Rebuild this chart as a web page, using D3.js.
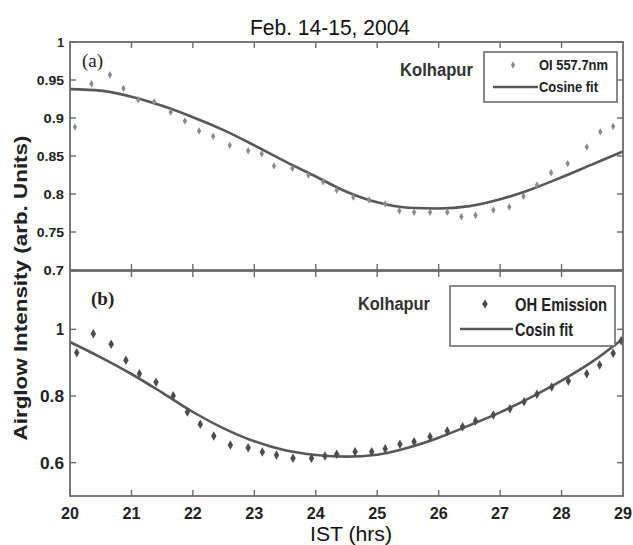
<!DOCTYPE html>
<html>
<head>
<meta charset="utf-8">
<script src="https://cdn.jsdelivr.net/npm/d3@7"></script>
<style>
    body { margin: 0; background: #fff; }
    svg { display: block; }
</style>
</head>
<body>
<div id="chart"></div>
<script>
// Panel (a): OI 557.7 nm emission, Kolhapur
const oiHours = [20.08, 20.35, 20.65, 20.87, 21.11, 21.37, 21.64, 21.87, 22.10, 22.33, 22.60, 22.90,
    23.12, 23.32, 23.62, 23.88, 24.12, 24.34, 24.61, 24.87, 25.13, 25.36, 25.60, 25.86,
    26.14, 26.37, 26.60, 26.89, 27.15, 27.38, 27.60, 27.83, 28.10, 28.41, 28.63, 28.84];
const oiValues = [0.888, 0.945, 0.957, 0.939, 0.924, 0.921, 0.908, 0.896, 0.883, 0.876, 0.864, 0.857,
    0.853, 0.837, 0.834, 0.825, 0.816, 0.805, 0.796, 0.792, 0.787, 0.778, 0.776, 0.776,
    0.776, 0.770, 0.772, 0.779, 0.783, 0.797, 0.812, 0.828, 0.840, 0.862, 0.882, 0.889];

const fitHours = [20, 20.5, 21, 21.5, 22, 22.5, 23, 23.5, 24, 24.5, 25, 25.5, 26, 26.5, 27, 27.5, 28, 28.5, 29];
const oiFit = [0.938, 0.936, 0.928, 0.916, 0.901, 0.884, 0.864, 0.843, 0.823, 0.803, 0.789, 0.782,
    0.781, 0.784, 0.793, 0.806, 0.822, 0.839, 0.856];

// Panel (b): OH emission, Kolhapur
const ohHours = [20.11, 20.38, 20.67, 20.91, 21.13, 21.40, 21.68, 21.91, 22.12, 22.34, 22.61, 22.90,
    23.13, 23.36, 23.63, 23.93, 24.15, 24.34, 24.64, 24.91, 25.13, 25.37, 25.60, 25.86,
    26.14, 26.39, 26.60, 26.89, 27.16, 27.39, 27.60, 27.84, 28.11, 28.41, 28.62, 28.84, 28.97];
const ohValues = [0.930, 0.987, 0.955, 0.907, 0.867, 0.841, 0.801, 0.752, 0.715, 0.680, 0.653, 0.645,
    0.632, 0.623, 0.613, 0.613, 0.620, 0.625, 0.633, 0.633, 0.642, 0.655, 0.663, 0.678,
    0.695, 0.708, 0.725, 0.743, 0.762, 0.783, 0.805, 0.827, 0.845, 0.867, 0.893, 0.928, 0.966];
const ohFit = [0.962, 0.916, 0.866, 0.810, 0.752, 0.703, 0.664, 0.637, 0.623, 0.618, 0.624, 0.645,
    0.675, 0.712, 0.751, 0.796, 0.846, 0.903, 0.972];

const xTicks = [20, 21, 22, 23, 24, 25, 26, 27, 28, 29];
const yTicksA = [0.7, 0.75, 0.8, 0.85, 0.9, 0.95, 1];
const yTicksB = [0.6, 0.8, 1];

const width = 633, height = 545;
const frameColor = "#6b6b6b";
const lineColor = "#585858";

const svg = d3.select("#chart")
    .append("svg")
    .attr("width", width)
    .attr("height", height)
    .attr("viewBox", [0, 0, width, height]);

const x = d3.scaleLinear().domain([20, 29]).range([70, 623]);
const yA = d3.scaleLinear().domain([0.7, 1]).range([270, 42]);
const yB = d3.scaleLinear().domain([0.5, 1.175]).range([496, 271]);

const lineGen = (y) => d3.line().x((d, i) => x(fitHours[i])).y(d => y(d)).curve(d3.curveMonotoneX);

// small helper for condensed bold labels (no narrow font installed, so squeeze to width)
function label(parent, px, py, str, size, w, opts = {}) {
    const t = parent.append("text")
        .attr("x", px).attr("y", py)
        .attr("font-family", "Liberation Sans, Arial, sans-serif")
        .attr("font-size", size)
        .attr("font-weight", opts.weight || "bold")
        .attr("fill", opts.fill || "#222")
        .attr("text-anchor", opts.anchor || "start")
        .text(str);
    if (opts.dy) t.attr("dy", opts.dy);
    if (w) t.attr("textLength", w).attr("lengthAdjust", "spacingAndGlyphs");
    return t;
}

/**
 * Draws one panel: frame with inward ticks on all sides, fit line and markers.
 */
function drawPanel(y, yTicks, yFont, values, hours, fit, marker) {
    const [y0, y1] = y.range();
    const g = svg.append("g");
    const tickLen = 6;

    // fit line
    g.append("path")
        .datum(fit)
        .attr("fill", "none")
        .attr("stroke", lineColor)
        .attr("stroke-width", 2.6)
        .attr("d", lineGen(y));

    // observations
    g.selectAll(".pt")
        .data(values)
        .join("path")
        .attr("class", "pt")
        .attr("transform", (d, i) => `translate(${x(hours[i])},${y(d)})`)
        .attr("d", d3.symbol().type(d3.symbolDiamond).size(marker.size))
        .attr("fill", marker.color);

    // frame
    g.append("rect")
        .attr("x", x(20)).attr("y", y1)
        .attr("width", x(29) - x(20)).attr("height", y0 - y1)
        .attr("fill", "none")
        .attr("stroke", frameColor)
        .attr("stroke-width", 1.8);

    // x ticks (top and bottom, inward)
    xTicks.slice(1, -1).forEach(t => {
        g.append("line").attr("x1", x(t)).attr("x2", x(t)).attr("y1", y0).attr("y2", y0 - tickLen)
            .attr("stroke", frameColor).attr("stroke-width", 1.4);
        g.append("line").attr("x1", x(t)).attr("x2", x(t)).attr("y1", y1).attr("y2", y1 + tickLen)
            .attr("stroke", frameColor).attr("stroke-width", 1.4);
    });

    // y ticks (left and right, inward) + labels
    yTicks.forEach(t => {
        g.append("line").attr("x1", x(20)).attr("x2", x(20) + tickLen).attr("y1", y(t)).attr("y2", y(t))
            .attr("stroke", frameColor).attr("stroke-width", 1.4);
        g.append("line").attr("x1", x(29)).attr("x2", x(29) - tickLen).attr("y1", y(t)).attr("y2", y(t))
            .attr("stroke", frameColor).attr("stroke-width", 1.4);
        const s = d3.format("~g")(t);
        label(g, x(20) - 6, y(t), s, yFont.size, s.length * yFont.cw, { anchor: "end", dy: "0.35em" });
    });
    return g;
}

drawPanel(yA, yTicksA, { size: 13, cw: 6.8 }, oiValues, oiHours, oiFit, { size: 16, color: "#8c8c8c" });
drawPanel(yB, yTicksB, { size: 17, cw: 8 }, ohValues, ohHours, ohFit, { size: 26, color: "#4d4d4d" });

// x tick labels (bottom panel only)
const xLab = svg.append("g");
xTicks.forEach(d => label(xLab, x(d), 519, String(d), 17, 18, { anchor: "middle" }));

// panel labels
svg.append("text").attr("x", 82).attr("y", 67)
    .attr("font-family", "Liberation Serif, Times New Roman, serif")
    .attr("font-size", 19).attr("fill", "#222").text("(a)");
svg.append("text").attr("x", 91).attr("y", 305)
    .attr("font-family", "Liberation Serif, Times New Roman, serif")
    .attr("font-size", 19).attr("font-weight", "bold").attr("fill", "#222").text("(b)");

// site labels
label(svg, 400, 76, "Kolhapur", 18, 73, { fill: "#333" });
label(svg, 358, 310, "Kolhapur", 18, 72, { fill: "#333" });

/**
 * Legend box with a marker row and a line row.
 */
function drawLegend(box, markerRow, lineRow, font, marker) {
    const lg = svg.append("g");
    lg.append("rect")
        .attr("x", box.x).attr("y", box.y)
        .attr("width", box.w).attr("height", box.h)
        .attr("fill", "#fff")
        .attr("stroke", frameColor)
        .attr("stroke-width", 1.6);
    lg.append("path")
        .attr("transform", `translate(${markerRow.mx},${markerRow.y})`)
        .attr("d", d3.symbol().type(d3.symbolDiamond).size(marker.size))
        .attr("fill", marker.color);
    label(lg, markerRow.tx, markerRow.y, markerRow.label, font, markerRow.w, { dy: "0.35em" });
    lg.append("line")
        .attr("x1", lineRow.x1).attr("x2", lineRow.x2)
        .attr("y1", lineRow.y).attr("y2", lineRow.y)
        .attr("stroke", lineColor).attr("stroke-width", 2.6);
    label(lg, markerRow.tx, lineRow.y, lineRow.label, font, lineRow.w, { dy: "0.35em" });
}

drawLegend({ x: 484, y: 52, w: 133, h: 50 },
    { mx: 513, tx: 539, y: 65, label: "OI 557.7nm", w: 69 },
    { x1: 493, x2: 538, y: 87, label: "Cosine fit", w: 59 },
    15, { size: 16, color: "#8c8c8c" });

drawLegend({ x: 450, y: 286, w: 165, h: 60 },
    { mx: 485, tx: 515, y: 304, label: "OH Emission", w: 92 },
    { x1: 460, x2: 513, y: 329, label: "Cosin fit", w: 58 },
    19, { size: 26, color: "#4d4d4d" });

// titles
label(svg, 330, 35, "Feb. 14-15, 2004", 22, 160, { anchor: "middle", weight: "normal", fill: "#111" });
label(svg, 351, 541, "IST (hrs)", 20, 82, { anchor: "middle", weight: "normal", fill: "#111" });

svg.append("text")
    .attr("transform", "translate(27,288) rotate(-90)")
    .attr("text-anchor", "middle")
    .attr("font-family", "Liberation Sans, Arial, sans-serif")
    .attr("font-size", 19)
    .attr("font-weight", "bold")
    .attr("fill", "#222")
    .attr("textLength", 305)
    .attr("lengthAdjust", "spacingAndGlyphs")
    .text("Airglow Intensity (arb. Units)");
</script>
</body>
</html>
